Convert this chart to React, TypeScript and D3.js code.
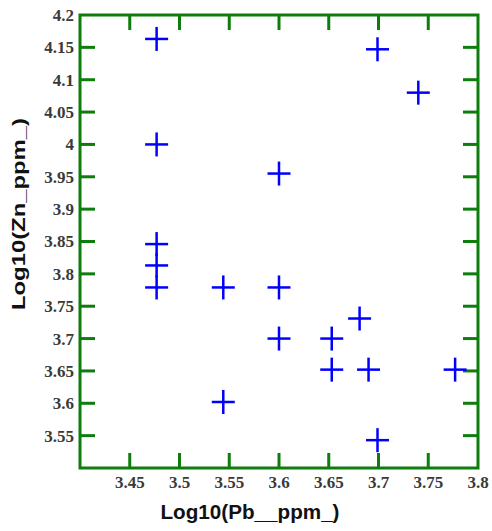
import React from "react";
import * as d3 from "d3";

const pbValues = [3.477, 3.477, 3.477, 3.477, 3.477, 3.544, 3.544, 3.6, 3.6, 3.6, 3.653, 3.653, 3.681, 3.69, 3.699, 3.699, 3.74, 3.777];
const znValues = [4.163, 4.0, 3.846, 3.813, 3.779, 3.779, 3.602, 3.955, 3.779, 3.7, 3.7, 3.652, 3.731, 3.652, 4.147, 3.543, 4.08, 3.652];
const xTicks = [3.45, 3.5, 3.55, 3.6, 3.65, 3.7, 3.75];
const xTickLabels = ["3.45", "3.5", "3.55", "3.6", "3.65", "3.7", "3.75", "3.8"];
const yTicks = [3.55, 3.6, 3.65, 3.7, 3.75, 3.8, 3.85, 3.9, 3.95, 4.0, 4.05, 4.1, 4.15];
const yTickLabels = ["3.55", "3.6", "3.65", "3.7", "3.75", "3.8", "3.85", "3.9", "3.95", "4", "4.05", "4.1", "4.15", "4.2"];
const xTitle = "Log10(Pb__ppm_)";
const yTitle = "Log10(Zn_ppm_)";

const W = 492, H = 531;
const L = 80, R = 478, T = 15, B = 468;
const GREEN = "#0d7d0d";
const TICK = 15;

export default function App() {
  const x = d3.scaleLinear().domain([3.4, 3.8]).range([L, R]);
  const y = d3.scaleLinear().domain([3.5, 4.2]).range([B, T]);
  const hx = 11.5, hy = 12;
  return (
    <svg width={W} height={H} style={{ position: "absolute", left: 0, top: 0, background: "#fff" }}>
      {xTicks.map((t) => (
        <g key={"xt" + t} stroke={GREEN} strokeWidth={3}>
          <line x1={x(t)} x2={x(t)} y1={B} y2={B - TICK} />
          <line x1={x(t)} x2={x(t)} y1={T} y2={T + TICK} />
        </g>
      ))}
      {yTicks.map((t) => (
        <g key={"yt" + t} stroke={GREEN} strokeWidth={3}>
          <line x1={L} x2={L + TICK} y1={y(t)} y2={y(t)} />
          <line x1={R} x2={R - TICK} y1={y(t)} y2={y(t)} />
        </g>
      ))}
      <rect x={L} y={T} width={R - L} height={B - T} fill="none" stroke={GREEN} strokeWidth={3} />
      {xTickLabels.map((s) => (
        <text key={"xl" + s} x={x(+s)} y={488} textAnchor="middle"
          fontFamily="'Liberation Serif', serif" fontWeight="bold" fontSize={17} fill="#3a3a3a">{s}</text>
      ))}
      {yTickLabels.map((s) => (
        <text key={"yl" + s} x={74} y={y(+s)} dy="0.35em" textAnchor="end"
          fontFamily="'Liberation Serif', serif" fontWeight="bold" fontSize={17} fill="#3a3a3a">{s}</text>
      ))}
      {pbValues.map((p, i) => (
        <g key={"pt" + i} stroke="#0000ff" strokeWidth={2.5}>
          <line x1={x(p) - hx} x2={x(p) + hx} y1={y(znValues[i])} y2={y(znValues[i])} />
          <line x1={x(p)} x2={x(p)} y1={y(znValues[i]) - hy} y2={y(znValues[i]) + hy} />
        </g>
      ))}
      <text x={250} y={519} textAnchor="middle" fontFamily="'Liberation Sans', Arial, sans-serif"
        fontWeight="bold" fontSize={20} fill="#111" textLength={179} lengthAdjust="spacingAndGlyphs">{xTitle}</text>
      <text transform={`translate(25,214) rotate(-90)`} textAnchor="middle" fontFamily="'Liberation Sans', Arial, sans-serif"
        fontWeight="bold" fontSize={18} fill="#111" textLength={192} lengthAdjust="spacingAndGlyphs">{yTitle}</text>
    </svg>
  );
}
